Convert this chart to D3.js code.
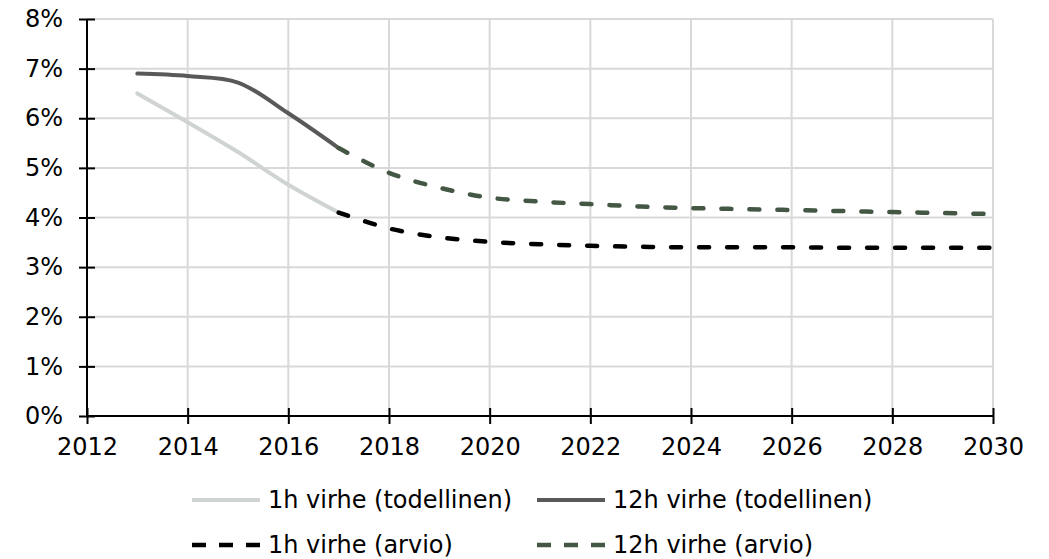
<!DOCTYPE html>
<html>
<head>
<meta charset="utf-8">
<script src="https://cdn.jsdelivr.net/npm/d3@7"></script>
<style>
  html, body { margin: 0; padding: 0; background: #fff; }
  svg { display: block; font-family: Verdana, "DejaVu Sans", sans-serif; }
</style>
</head>
<body>
<div id="chart"></div>
<script>
// years and series values (percent)
const actualYears = [2013, 2014, 2015, 2016, 2017]
const estimateYears = [2017, 2018, 2019, 2020, 2021, 2022, 2023, 2024, 2025, 2026, 2027, 2028, 2029, 2030]
const h1Actual = [6.5, 5.92, 5.32, 4.66, 4.1]
const h12Actual = [6.9, 6.85, 6.72, 6.1, 5.4]
const h1Estimate = [4.1, 3.78, 3.6, 3.51, 3.46, 3.43, 3.41, 3.4, 3.4, 3.4, 3.39, 3.39, 3.39, 3.39]
const h12Estimate = [5.4, 4.9, 4.6, 4.4, 4.32, 4.27, 4.22, 4.19, 4.17, 4.15, 4.13, 4.11, 4.09, 4.07]
const xTicks = [2012, 2014, 2016, 2018, 2020, 2022, 2024, 2026, 2028, 2030]
const yTicks = [0, 1, 2, 3, 4, 5, 6, 7, 8]

const series = [
    { label: '1h virhe (todellinen)', years: actualYears, values: h1Actual, color: '#d0d3d4', dash: null },
    { label: '12h virhe (todellinen)', years: actualYears, values: h12Actual, color: '#595959', dash: null },
    { label: '1h virhe (arvio)', years: estimateYears, values: h1Estimate, color: '#000000', dash: '10,18' },
    { label: '12h virhe (arvio)', years: estimateYears, values: h12Estimate, color: '#445744', dash: '10,18' },
]

const width = 1049
const height = 559
const margin = { top: 19, right: 56, bottom: 143, left: 87 }

const svg = d3.select('#chart')
    .append('svg')
    .attr('width', width)
    .attr('height', height)

const x = d3.scaleLinear()
    .domain([2012, 2030])
    .range([margin.left, width - margin.right])
const y = d3.scaleLinear()
    .domain([0, 8])
    .range([height - margin.bottom, margin.top])

// grid
const grid = svg.append('g')
    .attr('stroke', '#d9d9d9')
    .attr('stroke-width', 2)
grid.selectAll('line.h')
    .data(yTicks.filter(d => d > 0))
    .join('line')
    .attr('class', 'h')
    .attr('x1', x(2012)).attr('x2', x(2030))
    .attr('y1', d => y(d)).attr('y2', d => y(d))
grid.selectAll('line.v')
    .data(xTicks.filter(d => d > 2012))
    .join('line')
    .attr('class', 'v')
    .attr('x1', d => x(d)).attr('x2', d => x(d))
    .attr('y1', y(0)).attr('y2', y(8))

// lines
const line = d3.line()
    .x(d => x(d[0]))
    .y(d => y(d[1]))
    .curve(d3.curveCatmullRom.alpha(0.5))

svg.append('g')
    .attr('fill', 'none')
    .selectAll('path')
    .data(series)
    .join('path')
    .attr('stroke', d => d.color)
    .attr('stroke-width', d => d.dash ? 4.5 : 4)
    .attr('stroke-linecap', 'round')
    .attr('stroke-dasharray', d => d.dash)
    .attr('d', d => line(d.years.map((yr, i) => [yr, d.values[i]])))

// axes
const xAxis = svg.append('g')
    .attr('transform', `translate(0,${y(0)})`)
    .call(d3.axisBottom(x).tickValues(xTicks).tickFormat(d3.format('d')).tickSize(8).tickPadding(14))
const yAxis = svg.append('g')
    .attr('transform', `translate(${x(2012)},0)`)
    .call(d3.axisLeft(y).tickValues(yTicks).tickFormat(d => d + '%').tickSize(8).tickPadding(16))

for (const ax of [xAxis, yAxis]) {
    ax.select('.domain').attr('stroke', '#000').attr('stroke-width', 2)
    ax.selectAll('.tick line').attr('stroke', '#000').attr('stroke-width', 2)
    ax.selectAll('.tick text')
        .attr('fill', '#000')
        .attr('font-size', 24)
        .attr('font-family', 'Verdana, "DejaVu Sans", sans-serif')
}
xAxis.selectAll('.tick line').attr('y1', -8).attr('y2', 8)
yAxis.selectAll('.tick line').attr('x1', -8).attr('x2', 8)
xAxis.select('.domain').attr('d', `M${x(2012)},0H${x(2030)}`)
yAxis.select('.domain').attr('d', `M0,${y(0)}V${y(8)}`)

// legend
const legendPos = [
    { x: 192, y: 500 },
    { x: 537, y: 500 },
    { x: 192, y: 545 },
    { x: 537, y: 545 },
]
const legend = svg.append('g')
    .selectAll('g')
    .data(series)
    .join('g')
    .attr('transform', (d, i) => `translate(${legendPos[i].x},${legendPos[i].y})`)
legend.append('line')
    .attr('x1', 0).attr('x2', 68)
    .attr('stroke', d => d.color)
    .attr('stroke-width', d => d.dash ? 4.5 : 4)
    .attr('stroke-dasharray', d => d.dash ? '14,13' : null)
legend.append('text')
    .attr('x', 76)
    .attr('dy', '0.35em')
    .attr('font-size', 24)
    .attr('fill', '#000')
    .text(d => d.label)
</script>
</body>
</html>
